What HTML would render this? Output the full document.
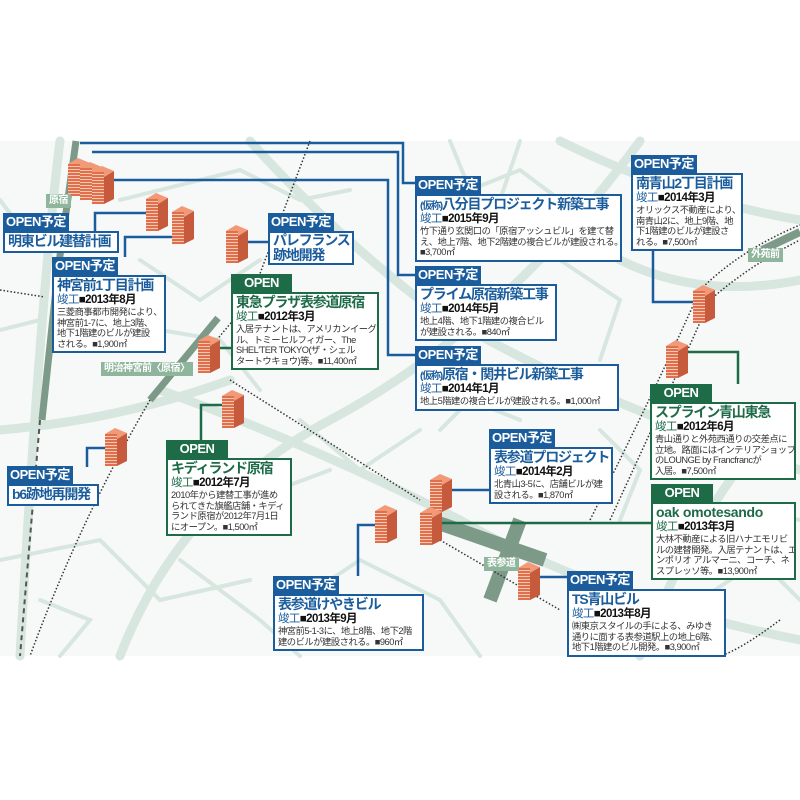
<!DOCTYPE html>
<html><head><meta charset="utf-8"><style>
body{margin:0;width:800px;height:800px;background:#fff;position:relative;overflow:hidden;font-family:"Liberation Sans","Noto Sans CJK JP",sans-serif}
.t{position:absolute;color:#fff;font-weight:bold;font-size:13px;line-height:18px;height:18px;padding:0 3px;letter-spacing:-.5px;white-space:nowrap}
.b{position:absolute;background:#fff;border:2px solid #1b5d9c;box-sizing:border-box;padding:0 3px 2px;color:#333;white-space:nowrap;overflow:hidden}
.tb{background:#1b5d9c}.tg{background:#1d6b47}
.g{border-color:#1d6b47}
.h{font-weight:bold;font-size:14px;line-height:17px;height:17px;color:#1b5d9c;letter-spacing:-1.2px}
.g .h{color:#1d6b47}
.d{font-size:11.5px;line-height:13px;height:13px;font-weight:bold;color:#111;letter-spacing:-.6px}
.d span{color:#1b5d9c;font-weight:normal}.g .d span{color:#1d6b47}
.p{font-size:9.3px;line-height:10.5px;color:#333;letter-spacing:-.5px}
.p div{height:10.5px}
.s{position:absolute;background:#8fb59c;color:#fff;font-size:10px;line-height:14px;padding:0 3px;font-weight:bold;letter-spacing:-.5px}
.sm{font-size:10px}
</style></head><body>
<svg width="800" height="800" style="position:absolute;left:0;top:0">
<defs>
<pattern id="win" width="4" height="3" patternUnits="userSpaceOnUse"><rect width="4" height="3" fill="#e0704c"/><rect y="2" width="4" height="1" fill="#f6c8b4"/></pattern>
<g id="bd"><polygon points="0,6 10,0 22,5 12,11" fill="#f29a78"/><rect x="0" y="6" width="12" height="32" fill="url(#win)"/><polygon points="12,11 22,5 22,33 12,38" fill="#c65a3c"/></g>
</defs>
<rect x="0" y="141" width="800" height="515" fill="#f7f9f8"/>
<g stroke="#d7e6de" fill="none" stroke-linecap="round">
<g stroke-width="9">
<path d="M60,141 Q40,300 20,656"/>
<path d="M250,141 Q330,230 420,300 Q560,390 800,470"/>
<path d="M120,656 Q180,500 330,420 Q500,330 640,141"/>
<path d="M160,390 Q300,440 460,520 Q600,600 800,640"/>
<path d="M560,141 Q680,200 800,220"/>
<path d="M640,656 Q700,500 780,420"/>
<path d="M0,430 Q120,420 230,380"/>
<path d="M620,260 Q700,300 800,280"/>
</g>
<g stroke-width="4">
<path d="M120,200 L240,170 L300,200 L350,190"/><path d="M140,260 L200,300 L260,260"/>
<path d="M0,560 L100,540 L160,600 L250,580"/><path d="M300,420 L360,470 L420,430"/>
<path d="M450,141 L470,190 L520,170 L600,230"/><path d="M560,260 L620,300 L600,360"/>
<path d="M300,600 L360,560 L440,600 L480,656"/><path d="M700,600 L760,560 L800,600"/>
<path d="M180,560 L260,620 L300,656"/><path d="M40,600 L90,620 L60,656"/>
<path d="M600,430 L640,470 L620,520"/><path d="M440,430 L470,400 L520,420"/>
<path d="M700,500 L800,520"/><path d="M520,141 L500,200"/><path d="M250,500 L330,470"/>
<path d="M160,330 L220,340 L260,390"/><path d="M0,330 L40,320"/><path d="M0,200 L30,240"/>
</g>
</g>
<path d="M76,141 L58,270 L42,420" stroke="#7d9a88" stroke-width="7" fill="none"/>
<path d="M218,318 L150,400" stroke="#7d9a88" stroke-width="7"/>
<path d="M430,520 L545,560 M490,600 L520,520" stroke="#7d9a88" stroke-width="14"/>
<path d="M762,250 L800,232" stroke="#7d9a88" stroke-width="8"/>
<path d="M40,420 L20,656" stroke="#555" stroke-width="2" stroke-dasharray="5,4"/>
<path d="M150,400 Q80,520 30,656" stroke="#333" stroke-width="1.5" stroke-dasharray="1.5,2" fill="none"/>
<path d="M0,290 L45,297 M310,141 L250,300 L200,360 M230,380 L420,500 M440,540 L560,610 M590,520 Q660,380 700,290 Q740,250 800,225 M610,520 Q670,390 710,300 Q750,265 800,240 M780,620 Q740,650 720,656" stroke="#333" stroke-width="1.5" stroke-dasharray="1.5,2" fill="none"/>
<g stroke="#1b5d9c" stroke-width="2.5" fill="none">
<path d="M80,143 H403 V183 H415"/><path d="M92,152 H398 V275 H415"/><path d="M113,180 H388 V355 H415"/>
<path d="M147,213 H95 V231"/><path d="M172,237 H125 V257"/><path d="M247,242 H268"/>
<path d="M693,302 H653 V251"/><path d="M450,490 H489"/><path d="M540,577 H567"/>
<path d="M105,448 H87 V467"/><path d="M375,525 H358 V576"/>
</g>
<g stroke="#1d6b47" stroke-width="2.5" fill="none">
<path d="M220,348 H231"/><path d="M686,352 H738 V384"/><path d="M438,523 H651"/><path d="M222,405 H201 V440"/>
</g>
<use href="#bd" x="68" y="158"/><use href="#bd" x="80" y="162"/><use href="#bd" x="92" y="166"/>
<use href="#bd" x="146" y="193"/><use href="#bd" x="172" y="206"/><use href="#bd" x="226" y="225"/>
<use href="#bd" x="198" y="335"/><use href="#bd" x="222" y="390"/><use href="#bd" x="105" y="428"/>
<use href="#bd" x="693" y="285"/><use href="#bd" x="666" y="340"/><use href="#bd" x="430" y="474"/>
<use href="#bd" x="420" y="507"/><use href="#bd" x="375" y="505"/><use href="#bd" x="518" y="562"/>
</svg>
<div class="s" style="left:46px;top:194px">原宿</div>
<div class="s" style="left:101px;top:362px">明治神宮前〈原宿〉</div>
<div class="s" style="left:484px;top:557px">表参道</div>
<div class="s" style="left:748px;top:248px">外苑前</div>

<div class="t tb" style="left:3px;top:213px">OPEN予定</div>
<div class="b" style="left:3px;top:231px;width:116px;height:22px"><div class="h">明東ビル建替計画</div></div>

<div class="t tb" style="left:52px;top:257px">OPEN予定</div>
<div class="b" style="left:52px;top:275px;width:114px"><div class="h">神宮前1丁目計画</div><div class="d"><span>竣工</span>■2013年8月</div><div class="p"><div>三菱商事都市開発により、</div><div>神宮前1-7に、地上3階、</div><div>地下1階建のビルが建設</div><div>される。■1,900㎡</div></div></div>

<div class="t tb" style="left:268px;top:213px">OPEN予定</div>
<div class="b" style="left:268px;top:231px;width:86px;height:34px"><div class="h" style="line-height:15px;height:30px">パレフランス<br>跡地開発</div></div>

<div class="t tg" style="left:231px;top:274px;width:55px;text-align:center">OPEN</div>
<div class="b g" style="left:231px;top:292px;width:148px"><div class="h">東急プラザ表参道原宿</div><div class="d"><span>竣工</span>■2012年3月</div><div class="p"><div>入居テナントは、アメリカンイーグ</div><div>ル、トミーヒルフィガー、The</div><div>SHEL'TER TOKYO(ザ・シェル</div><div>タートウキョウ)等。■11,400㎡</div></div></div>

<div class="t tb" style="left:415px;top:176px">OPEN予定</div>
<div class="b" style="left:415px;top:194px;width:207px"><div class="h"><span class="sm">(仮称)</span>八分目プロジェクト新築工事</div><div class="d"><span>竣工</span>■2015年9月</div><div class="p"><div>竹下通り玄関口の「原宿アッシュビル」を建て替</div><div>え、地上7階、地下2階建の複合ビルが建設される。</div><div>■3,700㎡</div></div></div>

<div class="t tb" style="left:415px;top:266px">OPEN予定</div>
<div class="b" style="left:415px;top:284px;width:142px"><div class="h">プライム原宿新築工事</div><div class="d"><span>竣工</span>■2014年5月</div><div class="p"><div>地上4階、地下1階建の複合ビル</div><div>が建設される。■840㎡</div></div></div>

<div class="t tb" style="left:415px;top:346px">OPEN予定</div>
<div class="b" style="left:415px;top:364px;width:204px"><div class="h"><span class="sm">(仮称)</span>原宿・関井ビル新築工事</div><div class="d"><span>竣工</span>■2014年1月</div><div class="p"><div>地上5階建の複合ビルが建設される。■1,000㎡</div></div></div>

<div class="t tb" style="left:631px;top:155px">OPEN予定</div>
<div class="b" style="left:631px;top:173px;width:112px"><div class="h">南青山2丁目計画</div><div class="d"><span>竣工</span>■2014年3月</div><div class="p"><div>オリックス不動産により、</div><div>南青山2に、地上9階、地</div><div>下1階建のビルが建設さ</div><div>れる。■7,500㎡</div></div></div>

<div class="t tg" style="left:650px;top:384px;width:56px;text-align:center">OPEN</div>
<div class="b g" style="left:650px;top:402px;width:146px"><div class="h">スプライン青山東急</div><div class="d"><span>竣工</span>■2012年6月</div><div class="p"><div>青山通りと外苑西通りの交差点に</div><div>立地。路面にはインテリアショップ</div><div>のLOUNGE by Francfrancが</div><div>入居。■7,500㎡</div></div></div>

<div class="t tg" style="left:651px;top:484px;width:56px;text-align:center">OPEN</div>
<div class="b g" style="left:651px;top:502px;width:145px"><div class="h" style="letter-spacing:-.3px">oak omotesando</div><div class="d"><span>竣工</span>■2013年3月</div><div class="p"><div>大林不動産による旧ハナエモリビ</div><div>ルの建替開発。入居テナントは、エ</div><div>ンポリオ アルマーニ、コーチ、ネ</div><div>スプレッソ等。■13,900㎡</div></div></div>

<div class="t tb" style="left:489px;top:429px">OPEN予定</div>
<div class="b" style="left:489px;top:447px;width:124px"><div class="h">表参道プロジェクト</div><div class="d"><span>竣工</span>■2014年2月</div><div class="p"><div>北青山3-5に、店舗ビルが建</div><div>設される。■1,870㎡</div></div></div>

<div class="t tg" style="left:166px;top:440px;width:56px;text-align:center">OPEN</div>
<div class="b g" style="left:166px;top:458px;width:126px"><div class="h">キディランド原宿</div><div class="d"><span>竣工</span>■2012年7月</div><div class="p"><div>2010年から建替工事が進め</div><div>られてきた旗艦店舗・キディ</div><div>ランド原宿が2012年7月1日</div><div>にオープン。■1,500㎡</div></div></div>

<div class="t tb" style="left:7px;top:466px">OPEN予定</div>
<div class="b" style="left:7px;top:484px;width:92px;height:22px"><div class="h">b6跡地再開発</div></div>

<div class="t tb" style="left:273px;top:576px">OPEN予定</div>
<div class="b" style="left:273px;top:594px;width:151px"><div class="h">表参道けやきビル</div><div class="d"><span>竣工</span>■2013年9月</div><div class="p"><div>神宮前5-1-3に、地上8階、地下2階</div><div>建のビルが建設される。■960㎡</div></div></div>

<div class="t tb" style="left:567px;top:571px">OPEN予定</div>
<div class="b" style="left:567px;top:589px;width:159px"><div class="h">TS青山ビル</div><div class="d"><span>竣工</span>■2013年8月</div><div class="p"><div>㈱東京スタイルの手による、みゆき</div><div>通りに面する表参道駅上の地上6階、</div><div>地下1階建のビル開発。■3,900㎡</div></div></div>
</body></html>
